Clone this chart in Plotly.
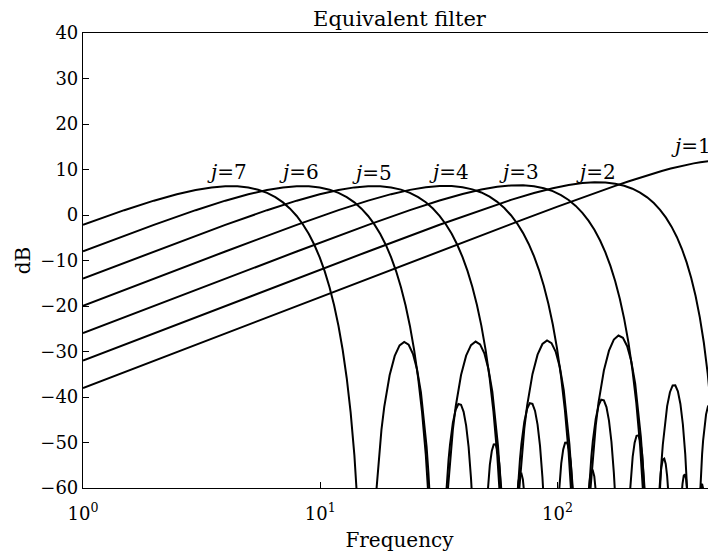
import math
import plotly.graph_objects as go

# ---------------- data (frequency in Hz, level in dB) ----------------
# j = 1
j1_freq = [1, 2, 5, 10, 20, 30, 50, 70, 100, 125, 150, 175, 200, 225, 250, 275, 300, 325,
           350, 375, 400, 425, 450, 470]
j1_db = [-38.02, -31.99, -24.04, -18.02, -12.00, -8.49, -4.07, -1.18, 1.84, 3.70, 5.18, 6.40,
         7.43, 8.29, 9.03, 9.66, 10.20, 10.66, 11.04, 11.35, 11.61, 11.80, 11.93, 12.00]

# j = 2
j2_freq = [1.0, 1.989, 3.979, 7.958, 15.915, 31.831, 47.746, 63.662, 79.577, 95.493, 111.408,
           127.324, 143.240, 159.155, 175.071, 190.986, 206.902, 222.817, 238.733, 254.648,
           270.563, 286.479, 302.394, 318.310, 334.225, 350.141, 366.056, 381.972, 397.887,
           413.803, 429.718, 445.634, 461.549, 469.51]
j2_db = [-32.00, -26.02, -20.00, -13.99, -8.01, -2.13, 1.16, 3.33, 4.83, 5.89, 6.59, 7.01, 7.19,
         7.14, 6.88, 6.43, 5.78, 4.93, 3.88, 2.62, 1.14, -0.58, -2.56, -4.82, -7.42, -10.41,
         -13.84, -17.82, -22.49, -28.08, -34.92, -43.64, -55.52, -63.67]

# j = 3
j3_freq = [1.0, 1.989, 3.979, 7.958, 15.915, 23.873, 31.831, 39.789, 47.746, 55.704, 63.662,
           71.620, 79.577, 87.535, 95.493, 103.451, 111.408, 119.366, 127.324, 135.282, 143.240,
           151.197, 159.155, 167.113, 175.071, 183.028, 190.986, 198.944, 206.902, 214.859,
           222.817, 230.775]
j3_db = [-25.97, -20.00, -13.99, -8.02, -2.16, 1.08, 3.19, 4.63, 5.59, 6.19, 6.49, 6.52, 6.32,
         5.89, 5.24, 4.38, 3.30, 2.00, 0.48, -1.29, -3.31, -5.61, -8.23, -11.19, -14.56, -18.41,
         -22.82, -27.95, -34.02, -41.37, -50.63, -63.08]

# j = 4 (main lobe and side lobes, separated by gaps)
j4_freq = [1.0, 1.989, 3.979, 7.958, 11.937, 15.915, 19.894, 23.873, 27.852, 31.831, 35.810,
           39.789, 43.768, 47.746, 51.725, 55.704, 59.683, 63.662, 67.641, 71.620, 75.599,
           79.577, 83.556, 87.535, 91.514, 95.493, 99.472, 103.451, 107.430, 111.408, 115.387,
           None,
           136.94, 140.92, 144.89, 148.87, 156.83, 164.79, 172.75, 180.70, 188.66, 196.62,
           204.58, 212.54, 220.49, 224.47, 228.45, 232.43,
           None,
           265.92, 269.90, 273.87, 277.85, 281.83, 289.79, 297.75, 305.70, 313.66, 321.62,
           329.58, 337.53, 345.49, 349.47, 353.45,
           None,
           394.90, 398.87, 402.86, 406.83, 410.81, 414.79, 422.75, 430.71, 438.66, 446.62,
           454.58, 462.54, 466.52]
j4_db = [-19.95, -13.99, -8.02, -2.17, 1.07, 3.16, 4.58, 5.52, 6.09, 6.36, 6.36, 6.11, 5.64,
         4.95, 4.03, 2.90, 1.54, -0.05, -1.88, -3.98, -6.36, -9.05, -12.10, -15.56, -19.50,
         -24.01, -29.25, -35.42, -42.89, -52.26, -64.83,
         None,
         -61.71, -52.82, -46.28, -41.25, -34.18, -29.82, -27.38, -26.49, -26.99, -28.83,
         -32.11, -37.05, -44.09, -48.68, -54.25, -61.12,
         None,
         -67.13, -60.19, -54.80, -50.49, -47.02, -42.00, -38.95, -37.47, -37.43, -38.76,
         -41.53, -45.99, -52.59, -56.98, -62.32,
         None,
         -66.23, -60.66, -56.19, -52.55, -49.59, -47.20, -43.82, -42.04, -41.68, -42.70,
         -45.18, -49.35, -52.20]

# j = 5
j5_freq = [1.0, 1.989, 3.979, 5.968, 7.958, 9.947, 11.937, 13.926, 15.916, 17.905, 19.894,
           21.884, 23.873, 25.863, 27.852, 29.842, 31.831, 33.820, 35.810, 37.799, 39.789,
           41.778, 43.768, 45.757, 47.747, 49.736, 51.725, 53.715, 55.704, 57.694,
           None,
           68.468, 70.457, 72.447, 74.436, 78.415, 82.394, 86.373, 90.352, 94.331, 98.310,
           102.289, 106.268, 110.247, 112.236, 114.226, 116.215,
           None,
           134.948, 136.937, 138.926, 140.916, 144.895, 148.873, 152.852, 156.831, 160.810,
           164.789, 168.768, 172.747, 174.736,
           None,
           201.427, 203.416, 205.405, 207.394, 211.373, 215.352, 219.331, 223.310, 227.289,
           231.268, 233.257, 235.247,
           None,
           265.91, 267.90, 269.89, 271.88, 273.87, 277.85, 281.83, 285.80, 289.78, 291.77,
           293.76,
           None,
           332.40, 334.39, 336.38, 340.36, 344.33, 348.31, 352.29, 354.28,
           None,
           398.88, 402.85, 406.83, 410.81, 414.79]
j5_db = [-13.95, -8.02, -2.17, 1.06, 3.15, 4.56, 5.50, 6.07, 6.33, 6.31, 6.06, 5.58, 4.87,
         3.94, 2.80, 1.43, -0.18, -2.03, -4.14, -6.54, -9.26, -12.33, -15.81, -19.77, -24.31,
         -29.57, -35.76, -43.25, -52.65, -65.25,
         None,
         -62.32, -53.47, -46.96, -41.96, -34.98, -30.70, -28.35, -27.55, -28.15, -30.09,
         -33.48, -38.52, -45.69, -50.34, -55.96, -62.90,
         None,
         -62.61, -57.28, -53.05, -49.65, -44.80, -41.91, -40.59, -40.72, -42.22, -45.18,
         -49.83, -56.62, -61.10,
         None,
         -61.80, -58.28, -55.44, -53.17, -50.05, -48.52, -48.43, -49.72, -52.48, -56.94,
         -59.93, -63.55,
         None,
         -63.96, -61.04, -58.71, -56.85, -55.45, -53.78, -53.56, -54.72, -57.36, -59.30,
         -61.71,
         None,
         -62.43, -60.52, -59.07, -57.30, -56.99, -58.06, -60.61, -62.51,
         None,
         -61.32, -59.49, -59.09, -60.10, -62.57]

# j = 6
j6_freq = [1.0, 1.989, 2.984, 3.979, 4.974, 5.968, 6.963, 7.958, 8.952, 9.947, 10.942, 11.937,
           12.931, 13.926, 14.921, 15.916, 16.910, 17.905, 18.900, 19.894, 20.889, 21.884,
           22.879, 23.873, 24.868, 25.863, 26.857, 27.852, 28.847,
           None,
           34.234, 35.229, 36.224, 37.218, 39.208, 41.197, 43.187, 45.176, 47.166, 49.155,
           51.144, 53.134, 55.123, 56.118, 57.113, 58.107,
           None,
           67.474, 68.469, 69.463, 70.458, 72.447, 74.437, 76.426, 78.416, 80.405, 82.395,
           84.384, 86.374, 87.368,
           None,
           100.714, 101.708, 102.703, 103.698, 105.687, 107.676, 109.666, 111.655, 113.645,
           115.634, 116.629,
           None,
           133.95, 134.94, 135.94, 136.93, 138.92, 140.91, 142.90, 144.89, 145.89]
j6_db = [-7.98, -2.17, 1.06, 3.15, 4.56, 5.49, 6.06, 6.32, 6.31, 6.05, 5.57, 4.86, 3.93, 2.78,
         1.40, -0.21, -2.06, -4.18, -6.58, -9.30, -12.38, -15.87, -19.83, -24.38, -29.64,
         -35.85, -43.35, -52.75, -65.36,
         None,
         -62.47, -53.63, -47.12, -42.14, -35.17, -30.92, -28.59, -27.81, -28.44, -30.41,
         -33.82, -38.89, -46.08, -50.75, -56.38, -63.34,
         None,
         -63.19, -57.89, -53.68, -50.30, -45.47, -42.62, -41.35, -41.52, -43.06, -46.06,
         -50.76, -57.59, -62.09,
         None,
         -63.12, -59.64, -56.82, -54.58, -51.51, -50.04, -50.00, -51.35, -54.17, -58.70,
         -61.72,
         None,
         -63.42, -61.13, -59.30, -57.93, -56.34, -56.19, -57.44, -60.16, -62.13]

# j = 7
j7_freq = [1.0, 1.492, 1.989, 2.487, 2.984, 3.482, 3.979, 4.476, 4.974, 5.471, 5.968, 6.466,
           6.963, 7.460, 7.958, 8.455, 8.953, 9.450, 9.947, 10.445, 10.942, 11.439, 11.937,
           12.434, 12.931, 13.429, 13.926, 14.423,
           None,
           17.117, 17.615, 18.112, 18.609, 19.604, 20.599, 21.594, 22.588, 23.583, 24.578,
           25.572, 26.567, 27.562, 28.059, 28.557, 29.054,
           None,
           33.737, 34.234, 34.732, 35.229, 36.224, 37.218, 38.213, 39.208, 40.203, 41.197,
           42.192, 43.187, 43.684,
           None,
           50.357, 50.854, 51.352, 51.849, 52.844, 53.838, 54.833, 55.828, 56.822, 57.817,
           58.314,
           None,
           66.974, 67.471, 67.969, 68.466, 69.461, 70.456, 71.450, 72.445, 72.940]
j7_db = [-2.13, 1.06, 3.15, 4.56, 5.49, 6.06, 6.31, 6.30, 6.04, 5.56, 4.85, 3.92, 2.77, 1.39,
         -0.22, -2.08, -4.19, -6.60, -9.32, -12.40, -15.89, -19.85, -24.40, -29.67, -35.88,
         -43.37, -52.78, -65.39,
         None,
         -62.51, -53.66, -47.16, -42.18, -35.22, -30.97, -28.65, -27.88, -28.51, -30.49,
         -33.91, -38.99, -46.18, -50.85, -56.49, -63.45,
         None,
         -63.34, -58.04, -53.83, -50.46, -45.64, -42.80, -41.54, -41.71, -43.27, -46.28,
         -50.98, -57.83, -62.34,
         None,
         -63.45, -59.97, -57.16, -54.93, -51.88, -50.42, -50.40, -51.76, -54.59, -59.13,
         -62.15,
         None,
         -63.99, -61.71, -59.90, -58.54, -56.97, -56.85, -58.11, -60.85, -62.85]

# curve labels
label_text = ["j=1", "j=2", "j=3", "j=4", "j=5", "j=6", "j=7"]
label_freq = [367, 145, 68.8, 34.9, 16.6, 8.13, 4.03]
label_db = [15.1, 9.5, 9.5, 9.4, 9.3, 9.4, 9.4]

# axis ticks
x_tickvals = [1, 10, 100]
x_ticktext = ["10<sup>0</sup>", "10<sup>1</sup>", "10<sup>2</sup>"]
y_tickvals = [-60, -50, -40, -30, -20, -10, 0, 10, 20, 30, 40]

# ---------------- figure ----------------
# The page body keeps its default 8 px margin, so the figure is sized to end at the window edge.
FONT = "DejaVu Serif"
W, H = 708, 545
fig = go.Figure()

curves = [(j1_freq, j1_db), (j2_freq, j2_db), (j3_freq, j3_db), (j4_freq, j4_db),
          (j5_freq, j5_db), (j6_freq, j6_db), (j7_freq, j7_db)]
for fx, fy in curves:
    fig.add_trace(go.Scatter(x=fx, y=fy, mode="lines", connectgaps=False,
                             line=dict(color="black", width=2), hoverinfo="skip"))

for txt, fx, fy in zip(label_text, label_freq, label_db):
    name, num = txt.split("=")
    fig.add_annotation(x=math.log10(fx), y=fy, xref="x", yref="y",
                       text="<i>" + name + "</i>=" + num, showarrow=False,
                       font=dict(family=FONT, size=20, color="black"))

fig.update_layout(
    width=W, height=H,
    margin=dict(l=75, r=0, t=25, b=65, autoexpand=False),
    paper_bgcolor="white", plot_bgcolor="white",
    showlegend=False,
    font=dict(family=FONT, size=18, color="black"),
    title=dict(text="Equivalent filter", x=0.5, xref="paper", xanchor="center",
               y=1 - 10.5 / H, yref="container", yanchor="middle",
               font=dict(family=FONT, size=21, color="black")),
)

fig.update_xaxes(
    type="log", range=[0, 2.668], automargin=False,
    showline=True, linecolor="black", linewidth=1.2, mirror=True,
    ticks="inside", ticklen=6, tickcolor="black", tickwidth=1,
    tickvals=x_tickvals, ticktext=x_ticktext, ticklabelstandoff=9,
    showgrid=False, zeroline=False,
    tickfont=dict(family=FONT, size=18, color="black"),
    title=dict(text="Frequency", standoff=10, font=dict(family=FONT, size=20, color="black")),
)
fig.update_yaxes(
    range=[-60, 40], automargin=False,
    showline=True, linecolor="black", linewidth=1.2, mirror=False,
    ticks="inside", ticklen=6, tickcolor="black", tickwidth=1,
    tickvals=y_tickvals,
    showgrid=False, zeroline=False,
    tickfont=dict(family=FONT, size=18, color="black"),
    title=dict(text="dB", standoff=4, font=dict(family=FONT, size=20, color="black")),
)

fig.write_html("out.html")
